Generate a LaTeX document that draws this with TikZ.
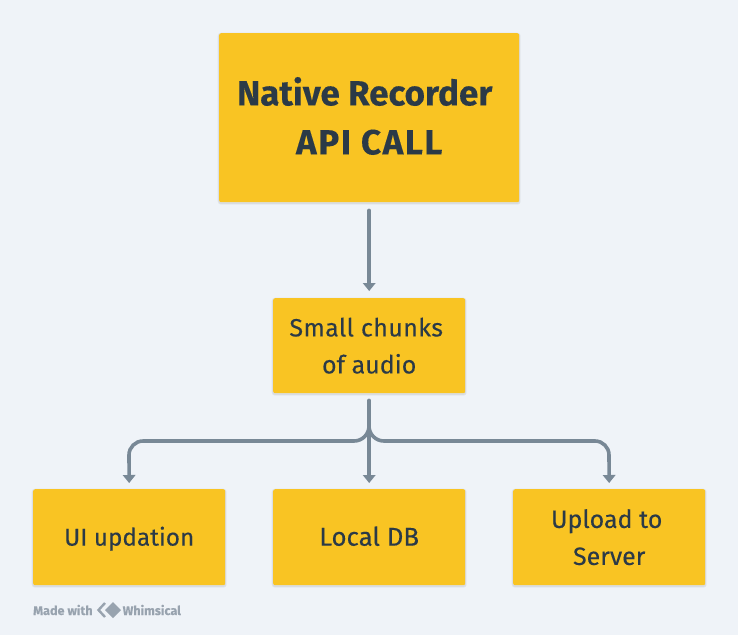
\documentclass[tikz,border=0pt]{standalone}
\usepackage{fontspec}
\setmainfont{Fira Sans}[FakeBold=0.25]
\usetikzlibrary{arrows.meta}
\definecolor{bgc}{HTML}{EFF3F8}
\definecolor{boxc}{HTML}{F9C423}
\definecolor{inkc}{HTML}{2B3A47}
\definecolor{linec}{HTML}{788896}
\definecolor{wmc}{HTML}{98A3AF}
\tikzset{
  x=1pt,y=-1pt,
  boxstyle/.style={fill=boxc,rounded corners=2pt,align=center,text=inkc,inner sep=0pt,anchor=north west,
     font=\fontsize{25}{37}\selectfont,
     preaction={draw=black,draw opacity=.05,line width=3pt,transform canvas={yshift=-1pt}},
     preaction={draw=black,draw opacity=.04,line width=1.5pt,transform canvas={yshift=-1pt}}},
  conn/.style={draw=linec,line width=3.6pt,line cap=round,{-{Triangle[length=8pt,width=13pt,line width=0pt]}}},
  wm/.style={text=wmc,font=\fontsize{12.6}{13}\selectfont\bfseries,inner sep=0pt,anchor=west},
}
\newcommand{\onel}{\rule[-5pt]{0pt}{27pt}}
\begin{document}
\begin{tikzpicture}
\useasboundingbox[fill=bgc] (0,0) rectangle (738,635);
\node[boxstyle,minimum width=300pt,minimum height=169pt,font=\fontsize{35}{49}\selectfont\bfseries] (top) at (219,33) {Native Recorder\hspace*{9pt}\\{\addfontfeature{LetterSpace=4.5}API CALL}\rule[-4pt]{0pt}{4pt}};
\node[boxstyle,minimum width=192pt,minimum height=95pt] (mid) at (273,298) {{\addfontfeature{LetterSpace=1.5}Small chunks}\hspace*{6pt}\\of audio};
\node[boxstyle,minimum width=192pt,minimum height=96pt,font=\fontsize{24.3}{37}\selectfont] (ui) at (33,489) {\onel UI updation};
\node[boxstyle,minimum width=192pt,minimum height=96pt,font=\fontsize{25.8}{37}\selectfont] (db) at (273,489) {\onel Local DB};
\node[boxstyle,minimum width=192pt,minimum height=96pt] (up) at (513,489) {Upload to\hspace*{5pt}\\Server};
\coordinate (trunk) at (369,426);
\draw[conn,shorten <=8pt,shorten >=7pt] (top.south) -- (mid.north);
\draw[conn,shorten <=7pt,shorten >=6pt] (mid.south) -- (db.north);
\draw[conn,shorten >=6pt] (trunk) .. controls (369,434.3) and (362.3,441) .. (354,441) -- (143,441) .. controls (135.3,441) and (129,447.3) .. (129,455) -- (ui.north);
\draw[conn,shorten >=6pt] (trunk) .. controls (369,434.3) and (375.7,441) .. (384,441) -- (595,441) .. controls (602.7,441) and (609,447.3) .. (609,455) -- (up.north);
\node[wm] (made) at (33,610) {Made with};
\node[wm] (whim) at (122.5,610) {Whimsical};
\draw[wmc,line width=2.4pt,line join=miter] (105,603) -- (98.5,610) -- (105,617);
\fill[wmc] (113,602) -- (121,610) -- (113,618) -- (105,610) -- cycle;
\end{tikzpicture}
\end{document}
